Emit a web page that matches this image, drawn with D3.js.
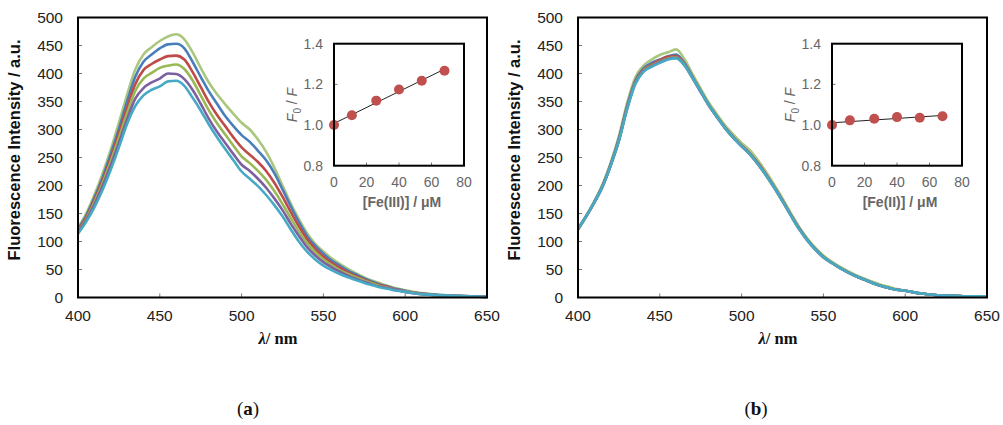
<!DOCTYPE html>
<html>
<head>
<meta charset="utf-8">
<script src="https://cdn.jsdelivr.net/npm/d3@7"></script>
<style>
  body { margin: 0; background: #fff; }
  svg { display: block; font-family: "Liberation Sans", Arial, sans-serif; }
</style>
</head>
<body>
<svg id="chart" width="1003" height="425"></svg>
<script>
// wavelengths (nm)
var wavelengths = [400,405,410,415,420,425,430,435,440,445,450,455,460,465,470,475,480,485,490,495,
  500,505,510,515,520,525,530,535,540,545,550,555,560,565,570,575,580,585,590,595,600,610,620,630,640,650];

// panel (a): Fe(III) titration
var specA_0 = [125,150,183,221,264,312,362,407,434,447,458,466,470,461,438,410,384,363,345,328,
  312,300,282,260,232,200,168,140,115,96,82,70,60,51,43,36,30,25,20,16,13,8,5,3,2,2];
var specA_1 = [122,146,178,214,256,301,350,394,421,434,445,452,453,445,421,394,368,346,324,306,
  290,278,262,245,222,193,163,135,110,92,78,66,57,48,41,34,28,23,19,15,12,7,5,3,2,2];
var specA_2 = [120,143,174,209,249,293,339,381,406,417,425,431,432,425,403,376,349,326,306,286,
  268,255,242,226,205,180,153,127,104,87,73,62,53,45,38,32,26,22,18,14,11,7,4,3,2,1];
var specA_3 = [118,140,170,204,243,285,329,369,391,401,410,414,416,408,388,361,334,311,291,271,
  252,240,226,210,190,167,142,118,97,81,68,58,49,42,36,30,25,20,17,13,11,6,4,3,2,1];
var specA_4 = [116,138,166,199,236,276,318,355,374,384,391,400,399,390,371,346,319,296,276,256,
  237,226,212,196,177,156,132,110,90,75,63,54,46,39,33,28,23,19,16,13,10,6,4,3,2,1];
var specA_5 = [114,135,161,192,228,268,310,342,361,371,377,386,387,378,357,334,309,286,265,245,
  225,212,199,183,165,145,122,100,82,68,57,49,42,36,31,26,22,18,15,12,10,6,4,3,2,1];

// panel (b): Fe(II) titration
var specB_0 = [123,146,172,202,241,288,347,393,414,425,433,438,443,426,399,373,348,327,307,291,
  276,263,245,224,201,177,151,127,106,89,75,64,55,47,40,34,28,23,19,15,12,7,4,3,2,2];
var specB_1 = [122,145,171,200,238,284,342,387,409,419,425,431,434,419,394,369,344,323,303,286,
  271,257,239,219,197,173,148,124,104,87,73,62,53,45,38,32,26,21,17,14,12,7,4,3,2,2];
var specB_2 = [122,145,170,199,237,282,340,385,407,416,424,430,431,417,393,368,343,322,303,286,
  271,257,240,219,197,173,148,124,103,86,72,62,53,45,38,32,26,21,17,14,12,7,4,3,2,2];
var specB_3 = [122,145,170,198,236,280,338,383,405,414,421,427,429,416,392,368,343,322,302,285,
  270,256,238,218,196,172,147,123,103,86,72,62,53,45,38,32,26,21,17,14,12,7,4,3,2,2];
var specB_4 = [122,145,170,198,236,280,337,382,404,413,420,426,428,415,392,367,343,322,302,285,
  270,256,238,218,196,172,147,123,103,86,72,62,53,45,38,32,26,21,17,14,12,7,4,3,2,2];
var specB_5 = [122,145,170,198,236,280,336,381,403,412,419,425,427,415,392,368,343,322,302,285,
  270,256,238,218,196,172,147,123,103,86,72,62,53,45,38,32,26,21,17,14,12,7,4,3,2,2];

var seriesColors = ["#aac77e", "#4a7ebb", "#be4b48", "#98b954", "#7d60a0", "#46aac5"];

// Stern-Volmer insets
var concFe = [0, 11, 26, 40, 54, 68];
var ratioA = [1.00, 1.048, 1.12, 1.175, 1.218, 1.267];
var ratioB = [1.00, 1.023, 1.031, 1.039, 1.036, 1.043];

var xTicks = [400, 450, 500, 550, 600, 650];
var yTicks = [0, 50, 100, 150, 200, 250, 300, 350, 400, 450, 500];
var insetXTicks = [0, 20, 40, 60, 80];
var insetYTicks = [0.8, 1.0, 1.2, 1.4];

var svg = d3.select("#chart");
svg.append("rect").attr("width", 1003).attr("height", 425).attr("fill", "#fff");

function drawPanel(left, spectra, insetLeft, ratios, insetTitle, tag, tagX) {
  var x = d3.scaleLinear().domain([400, 650]).range([left, left + 409]),
      y = d3.scaleLinear().domain([0, 500]).range([297.5, 17.5]),
      g = svg.append("g");

  // ticks inside
  g.append("g").selectAll("line").data(xTicks.slice(1, -1)).enter().append("line")
    .attr("x1", function(d) { return x(d); }).attr("x2", function(d) { return x(d); })
    .attr("y1", 297.5).attr("y2", 293.5).attr("stroke", "#555").attr("stroke-width", 0.8);
  g.append("g").selectAll("line").data(yTicks.slice(1, -1)).enter().append("line")
    .attr("x1", left).attr("x2", left + 4)
    .attr("y1", function(d) { return y(d); }).attr("y2", function(d) { return y(d); })
    .attr("stroke", "#555").attr("stroke-width", 0.8);

  var line = d3.line()
    .x(function(d, i) { return x(wavelengths[i]); })
    .y(function(d) { return y(d); })
    .curve(d3.curveMonotoneX);

  g.append("g").selectAll("path").data(spectra).enter().append("path")
    .attr("d", line)
    .attr("fill", "none")
    .attr("stroke", function(d, i) { return seriesColors[i]; })
    .attr("stroke-width", 2.6)
    .attr("stroke-linejoin", "round");

  g.append("rect").attr("x", left).attr("y", 17.5).attr("width", 409).attr("height", 280)
    .attr("fill", "none").attr("stroke", "#000").attr("stroke-width", 2);

  g.append("g").selectAll("text").data(xTicks).enter().append("text")
    .attr("x", function(d) { return x(d); }).attr("y", 321)
    .attr("text-anchor", "middle").attr("font-size", 15.5).attr("fill", "#222")
    .text(function(d) { return d; });
  g.append("g").selectAll("text").data(yTicks).enter().append("text")
    .attr("x", left - 15).attr("y", function(d) { return y(d) + 5.5; })
    .attr("text-anchor", "end").attr("font-size", 15.5).attr("fill", "#222")
    .text(function(d) { return d; });

  g.append("text")
    .attr("transform", "translate(" + (left - 58) + ",150) rotate(-90)")
    .attr("text-anchor", "middle").attr("font-size", 16.5).attr("font-weight", "bold")
    .attr("fill", "#111")
    .text("Fluorescence Intensity / a.u.");

  var xt = g.append("text")
    .attr("x", left + 200).attr("y", 344)
    .attr("text-anchor", "middle").attr("font-size", 16.5).attr("font-weight", "bold")
    .attr("font-family", "'Liberation Serif', 'Times New Roman', serif").attr("fill", "#111");
  xt.append("tspan").attr("font-style", "italic").text("λ");
  xt.append("tspan").text("/ nm");

  // inset
  var ix = d3.scaleLinear().domain([0, 80]).range([insetLeft, insetLeft + 130]),
      iy = d3.scaleLinear().domain([0.8, 1.4]).range([165.7, 43.7]),
      gi = svg.append("g");

  gi.append("g").selectAll("line").data(insetXTicks.slice(1, -1)).enter().append("line")
    .attr("x1", function(d) { return ix(d); }).attr("x2", function(d) { return ix(d); })
    .attr("y1", 165.7).attr("y2", 162.5).attr("stroke", "#555").attr("stroke-width", 0.8);
  gi.append("g").selectAll("line").data([1.0, 1.2]).enter().append("line")
    .attr("x1", insetLeft).attr("x2", insetLeft + 3.5)
    .attr("y1", function(d) { return iy(d); }).attr("y2", function(d) { return iy(d); })
    .attr("stroke", "#555").attr("stroke-width", 0.8);

  // least-squares trendline
  var mx = d3.mean(concFe), my = d3.mean(ratios),
      slope = d3.sum(concFe, function(c, i) { return (c - mx) * (ratios[i] - my); }) /
              d3.sum(concFe, function(c) { return (c - mx) * (c - mx); }),
      icpt = my - slope * mx,
      x0 = concFe[0], x1 = concFe[concFe.length - 1];
  gi.append("line")
    .attr("x1", ix(x0)).attr("y1", iy(icpt + slope * x0))
    .attr("x2", ix(x1)).attr("y2", iy(icpt + slope * x1))
    .attr("stroke", "#222").attr("stroke-width", 1);

  gi.append("g").selectAll("circle").data(ratios).enter().append("circle")
    .attr("cx", function(d, i) { return ix(concFe[i]); })
    .attr("cy", function(d) { return iy(d); })
    .attr("r", 5).attr("fill", "#c0504d");

  gi.append("rect").attr("x", insetLeft).attr("y", 43.7).attr("width", 130).attr("height", 122)
    .attr("fill", "none").attr("stroke", "#000").attr("stroke-width", 2);

  gi.append("g").selectAll("text").data(insetXTicks).enter().append("text")
    .attr("x", function(d) { return ix(d); }).attr("y", 187)
    .attr("text-anchor", "middle").attr("font-size", 14).attr("fill", "#666")
    .text(function(d) { return d; });
  gi.append("g").selectAll("text").data(insetYTicks).enter().append("text")
    .attr("x", insetLeft - 11).attr("y", function(d) { return iy(d) + 5; })
    .attr("text-anchor", "end").attr("font-size", 14).attr("fill", "#666")
    .text(function(d) { return d.toFixed(1); });

  gi.append("text")
    .attr("x", insetLeft + 68).attr("y", 207)
    .attr("text-anchor", "middle").attr("font-size", 14).attr("font-weight", "bold")
    .attr("fill", "#666").text(insetTitle);

  var yt = gi.append("text")
    .attr("transform", "translate(" + (insetLeft - 37) + ",105) rotate(-90)")
    .attr("text-anchor", "middle").attr("font-size", 14).attr("fill", "#666");
  yt.append("tspan").attr("font-style", "italic").text("F");
  yt.append("tspan").attr("font-size", 10).attr("dy", 4).text("0");
  yt.append("tspan").attr("dy", -4).text(" / ");
  yt.append("tspan").attr("font-style", "italic").text("F");

  // sub-figure tag
  var tg = svg.append("text")
    .attr("x", tagX).attr("y", 415)
    .attr("text-anchor", "middle").attr("font-size", 19)
    .attr("font-family", "'Liberation Serif', 'Times New Roman', serif").attr("fill", "#111");
  tg.append("tspan").text("(");
  tg.append("tspan").attr("font-weight", "bold").text(tag);
  tg.append("tspan").text(")");
}

drawPanel(78, [specA_0, specA_1, specA_2, specA_3, specA_4, specA_5],
  334, ratioA, "[Fe(III)] / μM", "a", 248);
drawPanel(578, [specB_0, specB_1, specB_2, specB_3, specB_4, specB_5],
  832, ratioB, "[Fe(II)] / μM", "b", 756);
</script>
</body>
</html>
